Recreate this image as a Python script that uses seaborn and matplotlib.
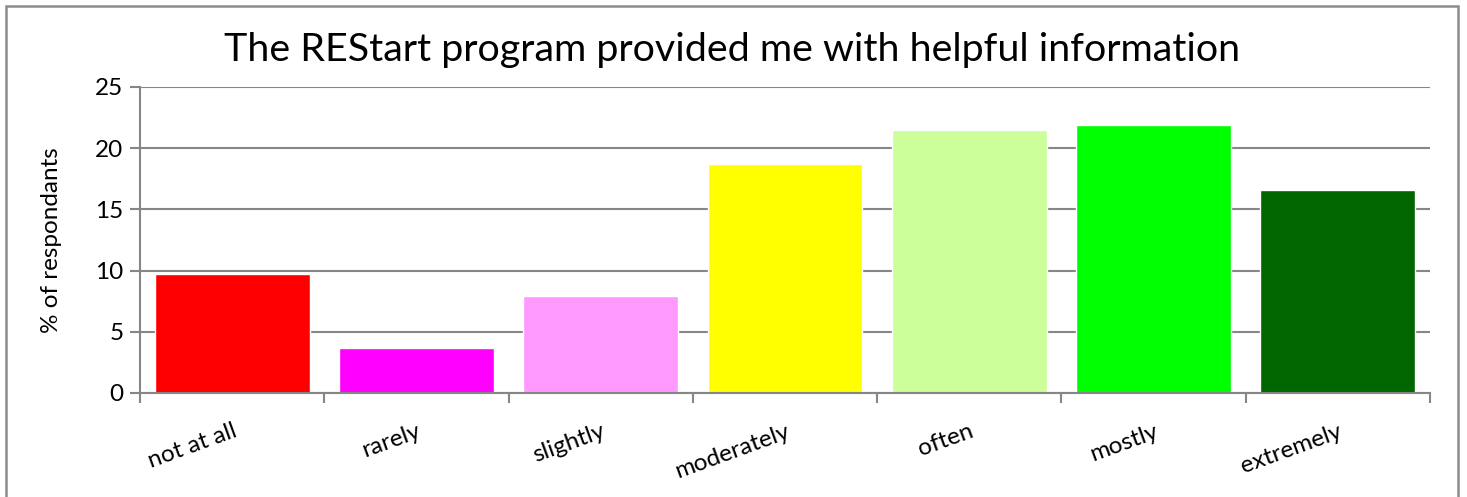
import matplotlib
matplotlib.use("Agg")
import matplotlib.pyplot as plt
import seaborn as sns
import pandas as pd
import numpy as np
from matplotlib.patches import Rectangle

# data
categories = ["not at all", "rarely", "slightly", "moderately", "often", "mostly", "extremely"]
percent = [9.7, 3.7, 7.9, 18.7, 21.5, 21.9, 16.6]
bar_colors = ["#FF0000", "#FF00FF", "#FF99FF", "#FFFF00", "#CCFF99", "#00FF00", "#006600"]
y_ticks = [0, 5, 10, 15, 20, 25]

df = pd.DataFrame({"answer": categories, "pct": percent})

sns.set_style("white")
plt.rcParams["font.family"] = ["Lato", "DejaVu Sans"]
plt.rcParams["text.color"] = "black"
plt.rcParams["axes.labelcolor"] = "black"
plt.rcParams["xtick.color"] = "black"
plt.rcParams["ytick.color"] = "black"

fig = plt.figure(figsize=(14.67, 4.97), dpi=100)
ax = fig.add_axes([0.0954, 0.2093, 0.8794, 0.6157])

sns.barplot(data=df, x="answer", y="pct", hue="answer", palette=bar_colors,
            legend=False, width=0.84, saturation=1, ax=ax)

grid_c = "#868686"
ax.set_ylim(0, 25)
ax.set_xlim(-0.5, len(categories) - 0.5)
ax.set_yticks(y_ticks)
ax.yaxis.grid(True, color=grid_c, linewidth=1.5)
ax.set_axisbelow(True)

for s in ["top", "right"]:
    ax.spines[s].set_visible(False)
for s in ["left", "bottom"]:
    ax.spines[s].set_color(grid_c)
    ax.spines[s].set_linewidth(1.5)

# category separators as minor ticks
ax.set_xticks(np.arange(-0.5, len(categories)), minor=True)
ax.tick_params(axis="x", which="minor", bottom=True, length=7, width=1.5,
               color=grid_c, direction="out")
ax.tick_params(axis="x", which="major", bottom=True, length=0, pad=20)
ax.tick_params(axis="y", left=True, length=7, width=1.5, color=grid_c,
               direction="out", pad=5, labelsize=17.5)
ax.set_xticks(range(len(categories)))
ax.set_xticklabels(categories, rotation=20, ha="right", rotation_mode="anchor", fontsize=17.5)

ax.set_xlabel("")
ax.set_ylabel("% of respondants", fontsize=17.5, labelpad=24)

fig.text(0.499, 0.90, "The REStart program provided me with helpful information",
         ha="center", va="center", fontsize=28.4)

# chart frame
fig.patches.append(Rectangle((6 / 1467, -0.1), 1452 / 1467, 1.1 - 6 / 497,
                             transform=fig.transFigure, fill=False,
                             edgecolor="#8c8c8c", linewidth=1.8))

plt.savefig("out.png", dpi=100)
